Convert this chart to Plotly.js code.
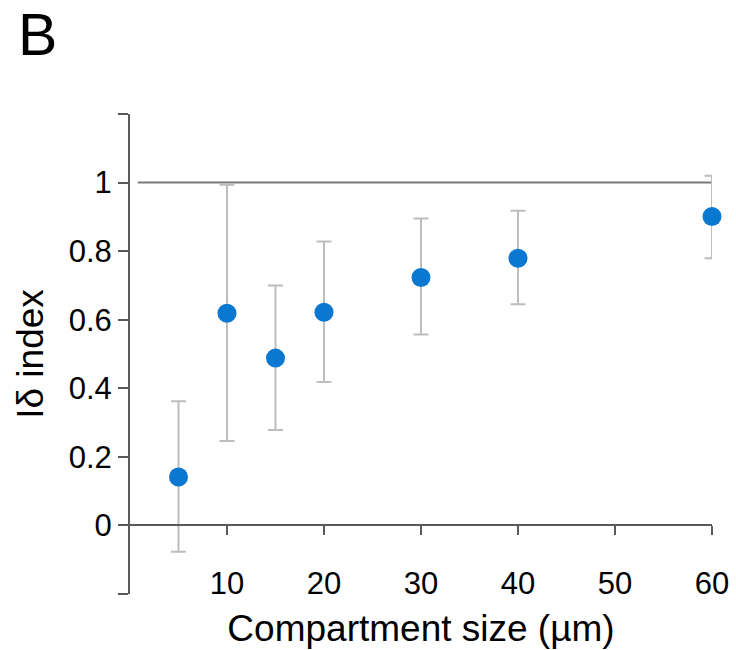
<!DOCTYPE html>
<html>
<head>
<meta charset="utf-8">
<script src="https://cdn.plot.ly/plotly-3.0.1.min.js"></script>
<style>html,body{margin:0;padding:0;background:#fff;}#chart{width:736px;height:650px;}</style>
</head>
<body>
<div id="chart"></div>
<script>
const sizes = [5, 10, 15, 20, 30, 40, 60];
const idx = [0.141, 0.619, 0.488, 0.622, 0.723, 0.779, 0.901];
const upper = [0.362, 0.994, 0.700, 0.828, 0.895, 0.918, 1.020];
const lower = [-0.077, 0.246, 0.278, 0.418, 0.557, 0.645, 0.779];
const xTicks = [10, 20, 30, 40, 50, 60];
const yTicks = [-0.2, 0, 0.2, 0.4, 0.6, 0.8, 1, 1.2];
const yTickText = ['', '0', '0.2', '0.4', '0.6', '0.8', '1', ''];
const refX = [0.8, 60];
const refY = [1, 1];

const errPlus = upper.map((u, i) => u - idx[i]);
const errMinus = lower.map((l, i) => idx[i] - l);

const font = 'Liberation Sans, Arial, sans-serif';
const axisColor = '#5a5a5a';

const traces = [
  {
    x: refX, y: refY, mode: 'lines', type: 'scatter', cliponaxis: false,
    line: {color: '#7a7a7a', width: 2}, hoverinfo: 'skip', showlegend: false
  },
  {
    x: sizes, y: idx, mode: 'markers', type: 'scatter', showlegend: false, cliponaxis: false,
    marker: {color: '#0a78d0', size: 19},
    error_y: {type: 'data', symmetric: false, array: errPlus, arrayminus: errMinus,
      color: '#bdbdbd', thickness: 2, width: 7.5}
  }
];

const layout = {
  width: 736, height: 650,
  margin: {l: 130, r: 24, t: 114, b: 56},
  paper_bgcolor: '#fff', plot_bgcolor: '#fff',
  font: {family: font, color: '#000', size: 31},
  xaxis: {
    range: [0, 60], anchor: 'free', position: 0.2 / 1.4,
    tickvals: xTicks, ticktext: xTicks.map(String),
    showline: true, linecolor: axisColor, linewidth: 2,
    ticks: 'outside', ticklen: 9, tickwidth: 2, tickcolor: axisColor,
    ticklabelstandoff: 21,
    showgrid: false, zeroline: false,
    tickfont: {family: font, size: 31, color: '#000'},
    title: {text: 'Compartment size (µm)', font: {family: font, size: 37, color: '#000'}, standoff: 14}
  },
  yaxis: {
    range: [-0.2, 1.2],
    tickvals: yTicks, ticktext: yTickText,
    showline: true, linecolor: axisColor, linewidth: 2,
    ticks: 'outside', ticklen: 10, tickwidth: 2, tickcolor: axisColor,
    showgrid: false, zeroline: false,
    tickfont: {family: font, size: 31, color: '#000'},
    title: {text: 'Iδ index', font: {family: font, size: 37, color: '#000'}, standoff: 14}
  },
  annotations: [
    {text: 'B', xref: 'paper', yref: 'paper', x: -130/582, y: 1 + 114/480,
     xanchor: 'left', yanchor: 'top', xshift: 16, yshift: 0, showarrow: false,
     font: {family: font, size: 59, color: '#000'}}
  ]
};

Plotly.newPlot('chart', traces, layout, {displayModeBar: false, staticPlot: true});
</script>
</body>
</html>
